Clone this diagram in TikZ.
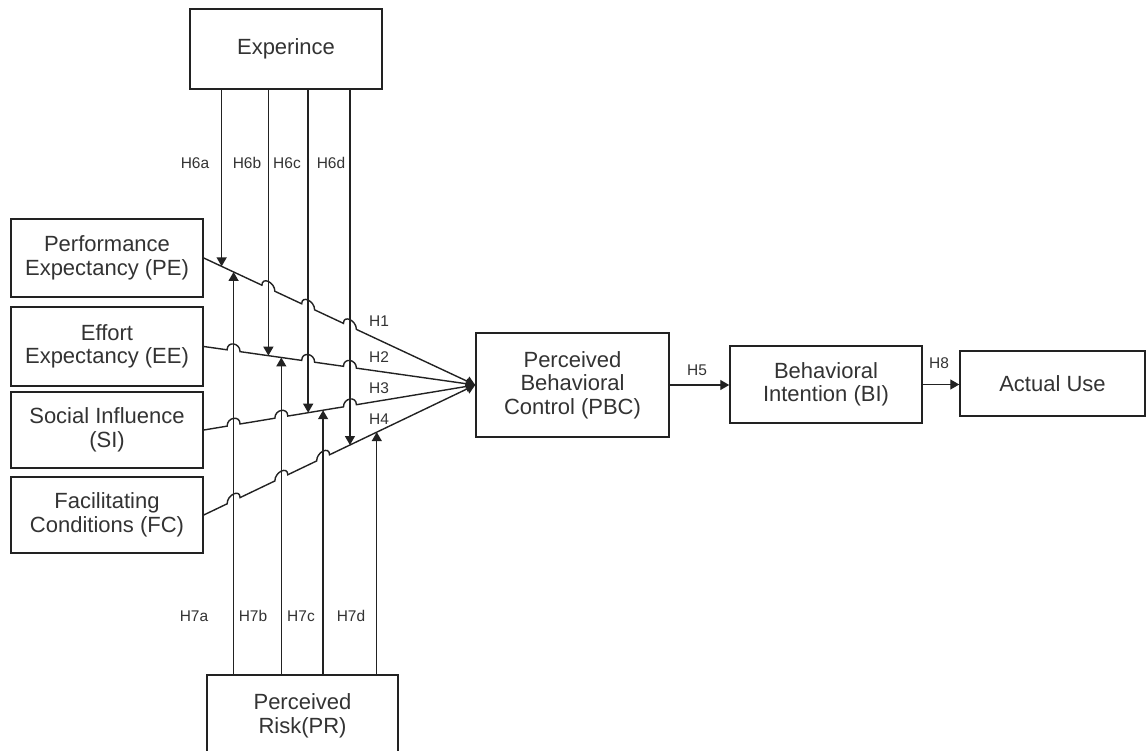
\documentclass[tikz,border=0pt]{standalone}
\usepackage{fontspec}
\setmainfont{Liberation Sans}
\usetikzlibrary{arrows.meta,calc}
\definecolor{ink}{HTML}{222222}
\definecolor{txt}{HTML}{333333}
\begin{document}
\begin{tikzpicture}[x=1pt,y=-1pt,
  box/.style={draw=ink,line width=1.5pt,fill=white,rectangle,align=center,text=txt,inner sep=0pt,
              font=\fontsize{22}{23.5}\selectfont},
  lbl/.style={text=txt,font=\fontsize{15.5}{16}\selectfont,inner sep=0pt},
  conn/.style={draw=ink,line width=1.4pt},
  arr/.style={conn,-{Triangle[length=9pt,width=10pt]}}]
\clip (0,0) rectangle (1146,751);
\fill[white] (0,0) rectangle (1146,751);

% boxes
\node[box,minimum width=192pt,minimum height=80pt] (exp) at (286,49) {Experince};
\node[box,minimum width=192pt,minimum height=78pt] (pe) at (107,258) {Performance\\Expectancy (PE)};
\node[box,minimum width=192pt,minimum height=79pt] (ee) at (107,346.5) {Effort\\Expectancy (EE)};
\node[box,minimum width=192pt,minimum height=76pt] (si) at (107,430) {Social Influence\\(SI)};
\node[box,minimum width=192pt,minimum height=76pt] (fc) at (107,515) {Facilitating\\Conditions (FC)};
\node[box,minimum width=193pt,minimum height=104pt] (pbc) at (572.5,385) {Perceived\\Behavioral\\Control (PBC)};
\node[box,minimum width=192pt,minimum height=77pt] (bi) at (826,384.5) {Behavioral\\Intention (BI)};
\node[box,minimum width=185pt,minimum height=65pt] (au) at (1052.5,383.5) {Actual Use};
\node[box,minimum width=191pt,minimum height=82pt] (pr) at (302.5,716) {Perceived\\Risk(PR)};

% converging lines with jumps
\draw[arr] (pe.east) foreach \h in {268,308,350} {
   -- ($(pe.east)!{(\h-6.5-203)/273}!(pbc.west)$) .. controls +(0,-9) and +(0,-9) .. ($(pe.east)!{(\h+6.5-203)/273}!(pbc.west)$) } -- (pbc.west);
\draw[arr] (ee.east) foreach \h in {233,308,350} {
   -- ($(ee.east)!{(\h-6.5-203)/273}!(pbc.west)$) .. controls +(0,-9) and +(0,-9) .. ($(ee.east)!{(\h+6.5-203)/273}!(pbc.west)$) } -- (pbc.west);
\draw[arr] (si.east) foreach \h in {233,281,350} {
   -- ($(si.east)!{(\h-6.5-203)/273}!(pbc.west)$) .. controls +(0,-9) and +(0,-9) .. ($(si.east)!{(\h+6.5-203)/273}!(pbc.west)$) } -- (pbc.west);
\draw[arr] (fc.east) foreach \h in {233,281,323} {
   -- ($(fc.east)!{(\h-6.5-203)/273}!(pbc.west)$) .. controls +(0,-9) and +(0,-9) .. ($(fc.east)!{(\h+6.5-203)/273}!(pbc.west)$) } -- (pbc.west);

% target points of moderators on the lines
\coordinate (t6a) at ($(pe.east)!{(221-203)/273}!(pbc.west)$);
\coordinate (t7a) at ($(pe.east)!{(233-203)/273}!(pbc.west)$);
\coordinate (t6b) at ($(ee.east)!{(268-203)/273}!(pbc.west)$);
\coordinate (t7b) at ($(ee.east)!{(281-203)/273}!(pbc.west)$);
\coordinate (t6c) at ($(si.east)!{(308-203)/273}!(pbc.west)$);
\coordinate (t7c) at ($(si.east)!{(323-203)/273}!(pbc.west)$);
\coordinate (t6d) at ($(fc.east)!{(350-203)/273}!(pbc.west)$);
\coordinate (t7d) at ($(fc.east)!{(377-203)/273}!(pbc.west)$);

\foreach \t in {t6a,t6b,t6c,t6d} { \draw[arr] (exp.south -| \t) -- (\t); }
\foreach \t in {t7a,t7b,t7c,t7d} { \draw[arr] (pr.north -| \t) -- (\t); }

% chain to the right
\draw[arr] (pbc.east) -- (pbc.east -| bi.west);
\draw[arr] (bi.east) -- (bi.east -| au.west);

% labels
\node[lbl] (h6a) at (195,163) {H6a};
\node[lbl] (h6b) at (247,163) {H6b};
\node[lbl] (h6c) at (287,163) {H6c};
\node[lbl] (h6d) at (331,163) {H6d};
\node[lbl] (h7a) at (194,616) {H7a};
\node[lbl] (h7b) at (253,616) {H7b};
\node[lbl] (h7c) at (301,616) {H7c};
\node[lbl] (h7d) at (351,616) {H7d};
\node[lbl] (h1) at (379,321) {H1};
\node[lbl] (h2) at (379,357) {H2};
\node[lbl] (h3) at (379,388) {H3};
\node[lbl] (h4) at (379,419) {H4};
\node[lbl] (h5) at (697,370) {H5};
\node[lbl] (h8) at (939,363) {H8};
\end{tikzpicture}
\end{document}
